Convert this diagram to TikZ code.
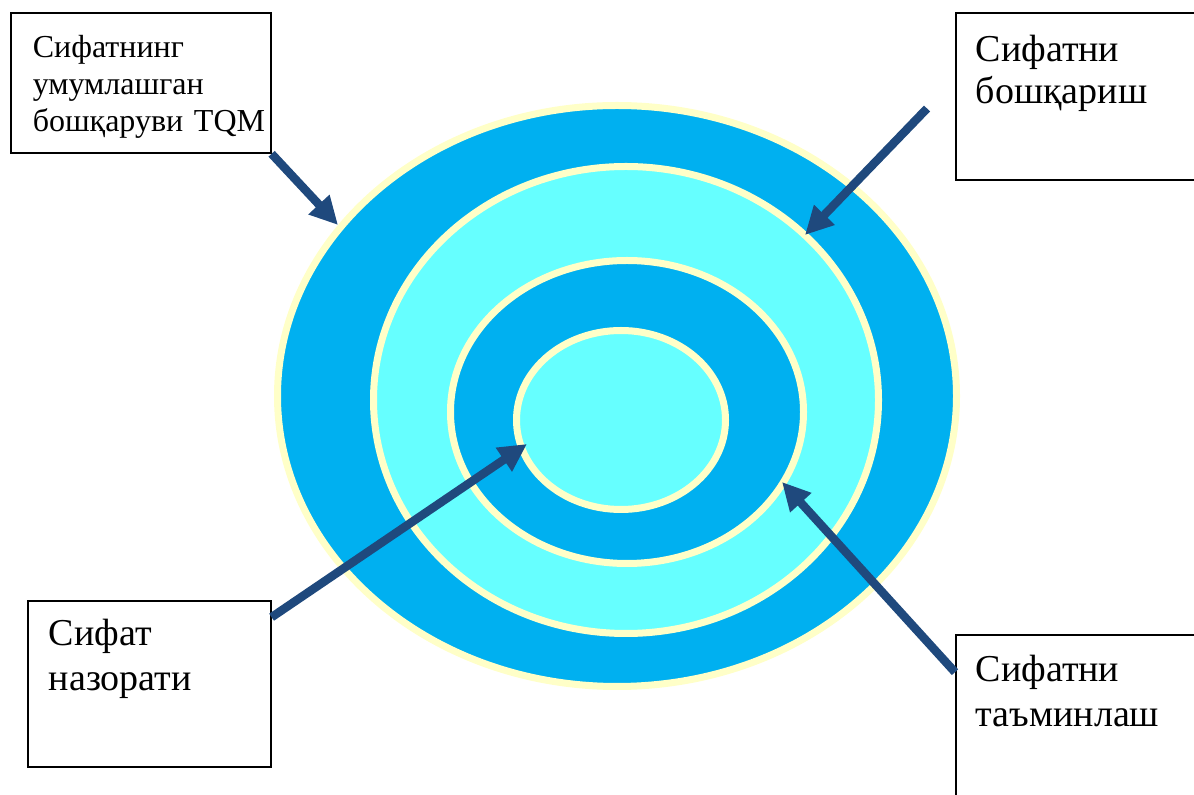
\documentclass[tikz,border=0pt]{standalone}
\usepackage{fontspec}
\setmainfont{Liberation Serif}
\usetikzlibrary{arrows.meta}

\definecolor{ringblue}{RGB}{0,176,240}
\definecolor{ringcyan}{RGB}{102,255,255}
\definecolor{ringcream}{RGB}{255,255,200}
\definecolor{arrowblue}{RGB}{31,73,125}

\begin{document}
\begin{tikzpicture}[x=1pt, y=1pt,
  ring/.style={draw=ringcream, line width=7pt},
  lbl/.style={draw, line width=1.6pt, anchor=base west, align=left, inner ysep=0pt},
  arr/.style={-{Triangle[length=28pt, width=27pt]}, line width=8.5pt, arrowblue}]
  \useasboundingbox (0,0) rectangle (1194,795);

  % Target rings
  \filldraw[ring, fill=ringblue] (617,399) ellipse [x radius=339.5, y radius=290.5];
  \filldraw[ring, fill=ringcyan] (626,395) ellipse [x radius=252.5, y radius=233.5];
  \filldraw[ring, fill=ringblue] (627,383) ellipse [x radius=176.5, y radius=151.5];
  \filldraw[ring, fill=ringcyan] (621,375) ellipse [x radius=104.5, y radius=89.5];

  % Labels
  \node[lbl, font=\fontsize{32}{37}\selectfont, text width=216pt, inner xsep=22pt,
        text height=45pt, text depth=95pt] (tqm) at (10,737)
        {Сифатнинг\\умумлашган\\бошқаруви~TQM};
  \node[lbl, font=\fontsize{38}{42}\selectfont, text width=220pt, inner xsep=20pt,
        text height=49pt, text depth=118pt] (mgmt) at (955,733)
        {Сифатни\\бошқариш};
  \node[lbl, font=\fontsize{38}{45}\selectfont, text width=201pt, inner xsep=21pt,
        text height=45pt, text depth=121pt] (ctrl) at (27,149)
        {Сифат\\назорати};
  \node[lbl, font=\fontsize{38}{45}\selectfont, text width=220pt, inner xsep=20pt,
        text height=47pt, text depth=140pt] (assur) at (955,113)
        {Сифатни\\таъминлаш};

  % Arrow tips on the rings
  \coordinate (tipA) at (338,570);
  \coordinate (tipB) at (805,560);
  \coordinate (tipC) at (527,351);
  \coordinate (tipD) at (782,313);

  % Arrows
  \draw[arr] (tqm.south east) -- (tipA);
  \draw[arr] ([shift={(-28,-12)}]mgmt.west) -- (tipB);
  \draw[arr] ([yshift=-17pt]ctrl.north east) -- (tipC);
  \draw[arr] ([yshift=-38pt]assur.north west) -- (tipD);
\end{tikzpicture}
\end{document}
